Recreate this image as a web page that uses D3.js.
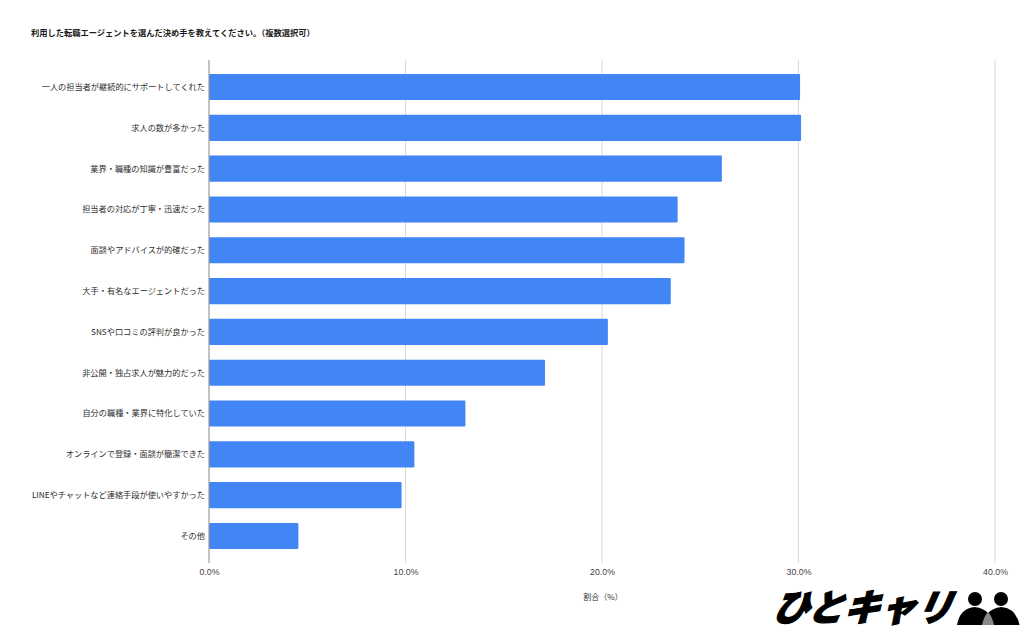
<!DOCTYPE html>
<html><head><meta charset="utf-8">
<script src="https://cdn.jsdelivr.net/npm/d3@7/dist/d3.min.js"></script>
<style>html,body{margin:0;padding:0;background:#fff}svg{display:block}
text{font-family:"Noto Sans CJK JP","Noto Sans",sans-serif}</style></head><body>
<svg id="c" width="1024" height="631"></svg>
<script>
const titleText="利用した転職エージェントを選んだ決め手を教えてください。\uFF08複数選択可\uFF09";
const axisTitle="割合\uFF08%\uFF09";
const categories=["一人の担当者が継続的にサポートしてくれた","求人の数が多かった","業界・職種の知識が豊富だった","担当者の対応が丁寧・迅速だった","面談やアドバイスが的確だった","大手・有名なエージェントだった","SNSや口コミの評判が良かった","非公開・独占求人が魅力的だった","自分の職種・業界に特化していた","オンラインで登録・面談が簡潔できた","LINEやチャットなど連絡手段が使いやすかった","その他"];
const values=[30.08,30.13,26.1,23.85,24.2,23.5,20.3,17.1,13.05,10.45,9.8,4.55];
const xTicks=[0,10,20,30,40];
const logoText="ひとキャリ";
const svg=d3.select("#c");
const x=d3.scaleLinear().domain([0,40]).range([209,995]);
const y=d3.scaleBand().domain(categories).range([66.6,556.4]).paddingInner(0.36).paddingOuter(0.18);
const plotTop=60,plotBottom=563;
svg.append("text").attr("x",31).attr("y",36.3).attr("font-size",8.25).attr("font-weight",700).attr("fill","#1a1a1a").text(titleText);
const ax=d3.axisBottom(x).tickValues(xTicks).tickFormat(d=>d3.format(".1f")(d)+"%").tickSize(0).tickPadding(0);
const g=svg.append("g").attr("transform",`translate(0,${plotBottom})`).call(ax);
g.select(".domain").remove();
g.selectAll("text").attr("y",9.5).attr("dy","0.32em").attr("font-size",8.8).attr("fill","#444").style("font-family",'"Liberation Sans",Arial,sans-serif');
svg.append("g").selectAll("line").data(xTicks.slice(1)).join("line").attr("x1",d=>x(d)).attr("x2",d=>x(d)).attr("y1",plotTop).attr("y2",plotBottom).attr("stroke","#d9d9d9").attr("stroke-width",1);
svg.append("g").selectAll("rect").data(categories).join("rect").attr("x",x(0)).attr("y",d=>y(d)).attr("height",y.bandwidth()).attr("width",(d,i)=>x(values[i])-x(0)).attr("fill","#4285f4").attr("rx",1);
svg.append("line").attr("x1",x(0)).attr("x2",x(0)).attr("y1",plotTop).attr("y2",plotBottom).attr("stroke","#9a9a9a").attr("stroke-width",1.2);
svg.append("g").selectAll("text").data(categories).join("text").attr("x",205).attr("y",d=>y(d)+y.bandwidth()/2).attr("dy","0.36em").attr("text-anchor","end").attr("font-size",8.2).attr("fill","#2e2e2e").text(d=>d);
svg.append("text").attr("x",603).attr("y",599.5).attr("text-anchor","middle").attr("font-size",8).attr("fill","#333").text(axisTitle);
const logo=svg.append("g");
logo.append("text").attr("transform","translate(771,620.5) skewX(-24) scale(1.0,1.03)").attr("font-size",36).attr("font-weight",900).attr("letter-spacing",0).attr("fill","#000").attr("stroke","#000").attr("stroke-width",1.2).text(logoText);
logo.append("circle").attr("cx",975).attr("cy",599).attr("r",7);
logo.append("circle").attr("cx",1001).attr("cy",599).attr("r",7);
logo.append("path").attr("d","M957 625Q960 608 975 607Q983 608 988 613Q993 608 1001 607Q1016 608 1019.5 625Z").attr("fill","#000");
logo.append("path").attr("d","M982 625Q984 616 988 612Q992 616 994 625Z").attr("fill","#8a8a8a");
</script></body></html>
